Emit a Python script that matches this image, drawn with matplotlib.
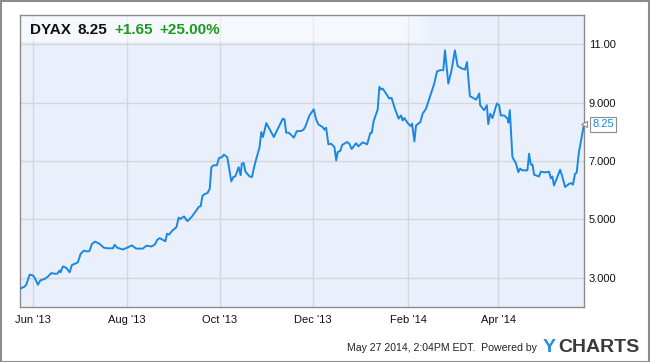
import matplotlib
matplotlib.use("Agg")
import matplotlib.pyplot as plt
from matplotlib.patches import Rectangle
import pandas as pd

# ---- data ----
start_date = "2013-05-23"
days_since_start = [
    0, 3.3, 4.4, 6.6, 8.7, 9.9, 12.0, 13.5, 16.4, 18.5, 20.7, 22.9, 24.6, 26.2, 26.8,
    28.3, 30.5, 32.7, 34.2, 37.0, 38.1, 39.9, 42.0, 44.6, 45.8, 47.3, 49.4, 52.3, 55.1,
    57.7, 61.0, 62.1, 63.8, 67.5, 70.3, 73.4, 76.2, 80.5, 83.0, 86.2, 88.4, 90.0, 91.6,
    95.3, 96.4, 97.7, 99.9, 102.5, 104.0, 105.1, 107.5, 109.7, 112.7, 115.6, 117.3, 118.4,
    119.5, 121.0, 122.8, 124.3, 125.4, 126.7, 129.0, 130.3, 132.3, 133.6, 135.8, 138.4,
    139.7, 141.0, 143.2, 144.5, 145.3, 146.5, 147.6, 150.4, 151.9, 153.6, 156.9, 158.0,
    159.1, 161.3, 166.2, 168.5, 172.1, 173.2, 174.3, 176.0, 179.3, 181.2, 184.1, 185.6,
    186.9, 189.5, 192.3, 193.9, 195.4, 198.2, 199.3, 200.4, 201.9, 203.7, 205.8, 207.0,
    208.0, 209.6, 210.9, 214.1, 215.6, 217.1, 220.0, 221.5, 224.3, 227.2, 229.3, 230.2,
    231.5, 234.1, 235.2, 236.3, 237.4, 241.7, 243.2, 245.5, 247.8, 249.4, 250.4, 251.5,
    253.7, 255.9, 256.6, 258.1, 259.2, 262.0, 263.5, 265.7, 271.1, 272.9, 275.0, 277.0,
    278.1, 280.3, 282.4, 284.6, 286.4, 289.0, 291.2, 292.5, 294.4, 297.2, 298.3, 299.4,
    300.5, 301.1, 303.7, 305.5, 306.4, 307.7, 309.2, 312.0, 313.5, 314.6, 316.8, 319.0,
    319.6, 320.5, 322.2, 324.4, 326.1, 327.2, 328.7, 332.0, 333.1, 334.2, 335.3, 336.4,
    339.6, 340.8, 342.9, 346.2, 347.3, 348.3, 349.4, 353.4, 354.9, 356.6, 359.3, 360.7,
    361.8, 363.1, 364.2, 365.7, 369.0,
]
price = [
    2.62, 2.70, 2.77, 3.11, 3.08, 3.00, 2.76, 2.91, 2.96, 3.04, 3.16, 3.14, 3.14, 3.25, 3.19,
    3.39, 3.34, 3.19, 3.44, 3.50, 3.53, 3.82, 3.93, 3.90, 3.93, 4.16, 4.24, 4.16, 4.03,
    4.01, 4.01, 4.13, 4.03, 3.97, 4.03, 4.11, 4.00, 4.00, 4.10, 4.07, 4.14, 4.30, 4.36,
    4.25, 4.51, 4.48, 4.62, 4.73, 5.06, 5.02, 5.10, 4.94, 5.10, 5.31, 5.44, 5.45,
    5.80, 5.87, 5.90, 6.05, 6.79, 6.85, 6.85, 7.10, 7.13, 7.22, 7.13, 6.30,
    6.45, 6.47, 6.79, 6.51, 6.91, 6.93, 6.64, 6.47, 6.45, 6.85, 7.48, 7.99,
    7.82, 8.30, 7.82, 8.07, 8.45, 8.42, 7.97, 7.97, 7.80, 8.02, 8.03, 8.07,
    8.19, 8.56, 8.77, 8.42, 8.25, 8.16, 8.07, 8.14, 7.57, 7.59, 7.48, 7.02,
    7.31, 7.34, 7.55, 7.65, 7.59, 7.41, 7.61, 7.50, 7.64, 7.57, 7.96, 7.96,
    8.37, 8.76, 9.54, 9.45, 9.48, 9.14, 9.16, 8.77, 8.45, 8.56, 8.39, 8.47,
    8.30, 8.19, 8.28, 7.67, 8.22, 8.33, 8.62, 8.79, 9.65, 10.07, 10.11, 10.11,
    10.79, 9.65, 10.11, 10.79, 10.25, 10.17, 10.13, 10.39, 9.22, 9.14, 9.10, 9.19,
    9.31, 8.91, 8.74, 8.91, 8.26, 8.62, 8.47, 8.97, 8.91, 8.56, 8.56, 8.45,
    8.31, 8.74, 7.13, 6.93, 6.62, 6.74, 6.68, 6.68, 7.25, 6.88, 6.88, 6.53,
    6.47, 6.64, 6.61, 6.63, 6.41, 6.47, 6.16, 6.70, 6.45, 6.11, 6.22, 6.24,
    6.19, 6.56, 6.60, 7.31, 8.25,
]
y_ticks = [3, 5, 7, 9, 11]
y_tick_labels = ["3.000", "5.000", "7.000", "9.000", "11.00"]
x_ticks = ["2013-06-01", "2013-08-01", "2013-10-01", "2013-12-01", "2014-02-01", "2014-04-01"]
x_tick_labels = ["Jun '13", "Aug '13", "Oct '13", "Dec '13", "Feb '14", "Apr '14"]
ticker_name = "DYAX"
last_price = "8.25"
change_abs = "+1.65"
change_pct = "+25.00%"
footer = "May 27 2014, 2:04PM EDT.  Powered by"

# ---- figure ----
W, H = 650, 362
plt.rcParams['font.family'] = ['Liberation Sans', 'DejaVu Sans']
fig = plt.figure(figsize=(W / 100, H / 100), dpi=100)
fig.patch.set_facecolor('white')

def fx(px):
    return px / W

def fy(py):
    return 1 - py / H

ax_l, ax_r, ax_t, ax_b = 19.6, 584.0, 15.0, 307.0
ax = fig.add_axes([fx(ax_l), fy(ax_b), (ax_r - ax_l) / W, (ax_b - ax_t) / H])
ax.set_facecolor('#EAF0FB')

dates = pd.Timestamp(start_date) + pd.to_timedelta(days_since_start, unit='D')
ax.plot(dates, price, color='#1A88E3', lw=1.4, solid_joinstyle='round', zorder=3)

ax.set_xlim(dates[0], dates[-1])
ax.set_ylim(2, 12)

ax.set_yticks(y_ticks)
ax.set_yticklabels(y_tick_labels)
ax.yaxis.tick_right()
ax.set_xticks(pd.to_datetime(x_ticks))
ax.set_xticklabels(x_tick_labels)
ax.tick_params(axis='both', length=0, labelsize=8, colors='#111111')
ax.tick_params(axis='y', pad=3.5)
ax.tick_params(axis='x', pad=6)
ax.grid(True, color='#D4D6DA', lw=1)
ax.set_axisbelow(True)
for s in ax.spines.values():
    s.set_color('#8C8C8C')
    s.set_linewidth(1)

# header band (semi transparent, fading on the right)
band_x1 = (408 - ax_l) / (ax_r - ax_l)
band_x2 = (436 - ax_l) / (ax_r - ax_l)
band_y0 = (ax_b - 42) / (ax_b - ax_t)
ax.add_patch(Rectangle((0, band_y0), band_x1, 1 - band_y0, transform=ax.transAxes,
                       facecolor='white', alpha=0.55, lw=0, zorder=2))
n = 10
step = (band_x2 - band_x1) / n
for i in range(n):
    ax.add_patch(Rectangle((band_x1 + i * step, band_y0), step, 1 - band_y0,
                           transform=ax.transAxes, facecolor='white',
                           alpha=0.55 * (1 - (i + 0.5) / n), lw=0, zorder=2))

base = fy(34.3)
fig.text(fx(30), base, ticker_name, fontsize=11, fontweight='bold', color='#111111', va='baseline')
fig.text(fx(77.5), base, last_price, fontsize=11, fontweight='bold', color='#111111', va='baseline')
fig.text(fx(114), base, change_abs, fontsize=11, fontweight='bold', color='#1C9A1C', va='baseline')
fig.text(fx(159), base, change_pct, fontsize=11, fontweight='bold', color='#1C9A1C', va='baseline')

# last value flag
ax.annotate(last_price, xy=(dates[-1], price[-1]), xytext=(6, 0), textcoords='offset points',
            fontsize=8, color='#1A88E3', va='center', ha='left', annotation_clip=False,
            bbox=dict(boxstyle='square,pad=0.2', fc='white', ec='#8C8C8C', lw=0.8), zorder=5)
ax.plot([dates[-1]], [price[-1]], marker='<', ms=5, mfc='white', mec='#8C8C8C', mew=0.8,
        clip_on=False, zorder=6, transform=ax.transData)

# footer
fig.text(fx(537), fy(348), footer, fontsize=7.6, color='#222222', ha='right', va='center')
fig.text(fx(543), fy(348), "Y", fontsize=14, fontweight='bold', color='#2A8BE0', ha='left', va='center')
fig.text(fx(558), fy(348), "CHARTS", fontsize=14, fontweight='bold', color='#3A3A3A', ha='left', va='center')

# outer border
fig.add_artist(Rectangle((0.5 / W, 0.5 / H), 1 - 1.5 / W, 1 - 1.5 / H, transform=fig.transFigure,
                         fill=False, edgecolor='#8C8C8C', lw=1.5))

fig.savefig('out.png', dpi=100)
